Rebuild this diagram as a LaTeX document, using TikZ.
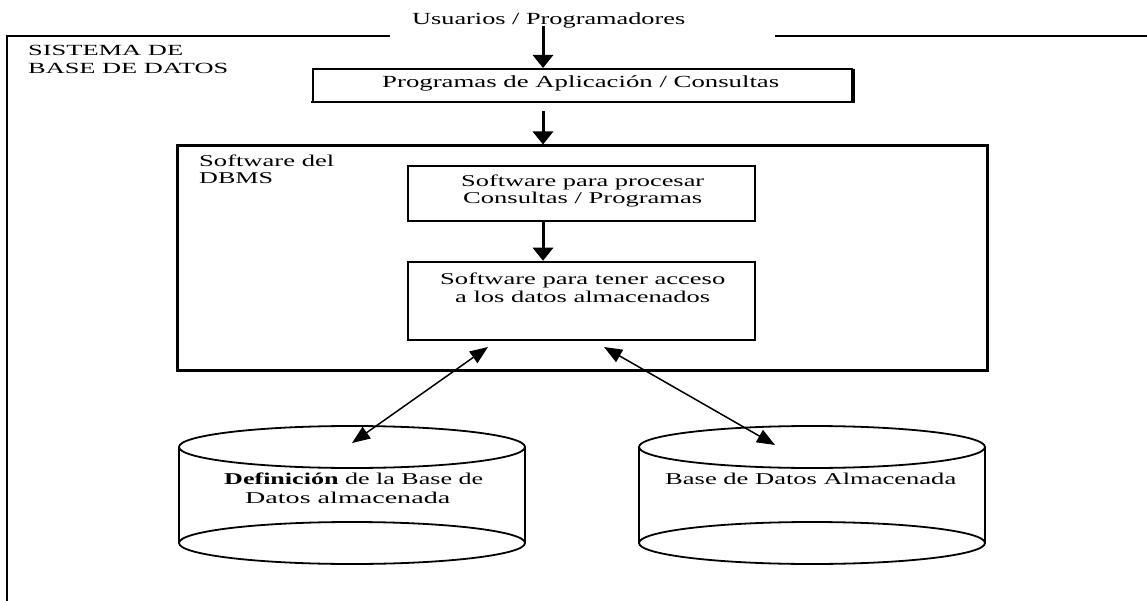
\documentclass[tikz,border=0pt]{standalone}
\usepackage{fontspec}
\setmainfont{Liberation Serif}
\usetikzlibrary{arrows.meta}
\newcommand\sx[2]{\resizebox{#1pt}{\height}{#2}}
\begin{document}
\begin{tikzpicture}[x=1pt,y=-1pt,
  frame/.style={line width=2pt},
  box/.style={draw, line width=2.5pt, inner sep=0pt},
  txt/.style={anchor=base west, inner sep=0pt, font=\fontsize{16.5}{19}\selectfont},
  varrow/.style={line width=3pt, -{Triangle[length=13pt,width=20pt]}},
  darrow/.style={line width=1.5pt, {Triangle[length=18pt,width=14pt]}-{Triangle[length=18pt,width=14pt]}},
  cyl/.style={line width=1.8pt}]
\useasboundingbox (0,0) rectangle (1147,601);
% outer frame
\draw[frame] (390,36) -- (7,36) -- (7,601);
\draw[frame] (775,36) -- (1147,36);
% boxes
\node[box, line width=2pt, minimum width=539pt, minimum height=33pt] (prgbox) at (582.5,85.5) {};
\draw[line width=2pt, line join=miter] ([xshift=1pt,yshift=-1pt]prgbox.north east) -- ([xshift=1pt,yshift=1pt]prgbox.south east) -- ([xshift=-1pt,yshift=1pt]prgbox.south west);
\node[box, line width=3pt, minimum width=810pt, minimum height=224pt] (dbms) at (582,258) {};
\node[box, minimum width=347pt, minimum height=55pt] (b1) at (581.5,193.5) {};
\node[box, minimum width=347pt, minimum height=78pt] (b2) at (581.5,301) {};
% cylinders
\draw[cyl] (179,447) -- (179,543) (525,447) -- (525,543);
\draw[cyl] (352,447) ellipse [x radius=173pt, y radius=21pt];
\draw[cyl] (352,543) ellipse [x radius=173pt, y radius=21pt];
\draw[cyl] (639,447) -- (639,543) (985,447) -- (985,543);
\draw[cyl] (812,447) ellipse [x radius=173pt, y radius=21pt];
\draw[cyl] (812,543) ellipse [x radius=173pt, y radius=21pt];
% texts
\node[txt, font=\fontsize{17}{19}\selectfont] (usu) at (412,25) {\sx{273}{Usuarios / Programadores}};
\node[txt, font=\fontsize{15.5}{18}\selectfont] (sis1) at (28,56) {\sx{155}{SISTEMA DE}};
\node[txt, font=\fontsize{15.5}{18}\selectfont] (sis2) at (28,74) {\sx{200}{BASE DE DATOS}};
\node[txt, font=\fontsize{17}{19}\selectfont] (prg) at (382,88) {\sx{397}{Programas de Aplicación / Consultas}};
\node[txt] (sw1) at (199,167) {\sx{135}{Software del}};
\node[txt] (sw2) at (199,184) {\sx{74}{DBMS}};
\node[txt] (p1) at (461,187) {\sx{243}{Software para procesar}};
\node[txt] (p2) at (463,204) {\sx{239}{Consultas / Programas}};
\node[txt] (t1) at (440,284) {\sx{285}{Software para tener acceso}};
\node[txt] (t2) at (455,302) {\sx{255}{a los datos almacenados}};
\node[txt] (d1) at (224,484) {\sx{259}{\textbf{Definición} de la Base de}};
\node[txt] (d2) at (245,503) {\sx{205}{Datos almacenada}};
\node[txt] (bd) at (665,484) {\sx{291}{Base de Datos Almacenada}};
% arrow coordinates
\coordinate (u) at (543,26);
\coordinate (a2s) at (543,111);
\coordinate (l1) at (488,347);
\coordinate (c1) at (352,443);
\coordinate (l2) at (604,347);
\coordinate (c2) at (775,445);
% arrows
\draw[varrow] (u) -- (u |- prgbox.north);
\draw[varrow] (a2s) -- (a2s |- dbms.north);
\draw[varrow] (u |- b1.south) -- (u |- b2.north);
\draw[darrow] (l1) -- (c1);
\draw[darrow] (l2) -- (c2);
\end{tikzpicture}
\end{document}
